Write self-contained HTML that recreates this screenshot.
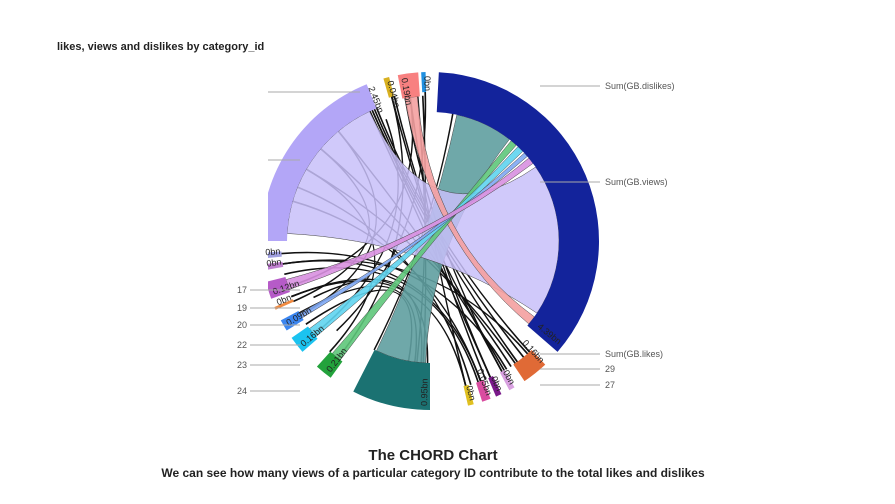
<!DOCTYPE html>
<html><head><meta charset="utf-8"><style>
body{margin:0;background:#fff;font-family:"Liberation Sans",sans-serif;}
#wrap{position:relative;width:895px;height:504px;overflow:hidden;}
.t{position:absolute;font-weight:bold;color:#222;}
</style></head><body>
<div id="wrap">
<div class="t" style="left:57px;top:41px;font-size:11px;">likes, views and dislikes by category_id</div>
<svg id="svg" width="895" height="504" style="position:absolute;left:0;top:0">
<defs><clipPath id="cp"><rect x="268" y="0" width="627" height="504"/></clipPath></defs>
<g id="chords" clip-path="url(#cp)"></g>
<g id="groups" clip-path="url(#cp)"></g>
<g id="labels"></g>
</svg>
<div class="t" style="left:0;width:866px;text-align:center;top:447px;font-size:15px;">The CHORD Chart</div>
<div class="t" style="left:0;width:866px;text-align:center;top:466px;font-size:12px;">We can see how many views of a particular category ID contribute to the total likes and dislikes</div>
</div>
<script>
const cx=430, cy=241, R=169;
const groupNames=["sum","c29","c28","c27","c26","c25","c24","c23","c22","c20","c19","c17","c15","c10","views","c1","c2","c3"];
const groupStart=[3,137,150,155,159,165,180,216,229,238,246,250,260,264,270,344,349,357];
const groupEnd=[131,146,152,157,162,167,207,222,235,242,247,256,262,266,338,346,356,358.5];
const groupThick=[40,20,20,20,20,20,47,20,20,20,20,20,20,20,26,20,24,20];
const groupColor=["#13239b","#e06a36","#d8a0e0","#7a1a8a","#d94ca0","#e0c020","#1b7272","#23a23c","#1bc3f0","#3c86f0","#f08a40","#b65bc8","#c080d0","#a0a0e0","#b3a6f7","#d8b020","#f88080","#2090e0"];
const chSrc=[6,14,16,7,8,9,11];
const chSrcA=[182,273,350,217,230,239,251];
const chSrcB=[206,335,355,221,234,241,255];
const chTgtA=[12,55,126,39,43,47,50];
const chTgtB=[38,124,130,42,46,49,53];
const chColor=["#5f9ea0","#c8bff9","#f4a0a0","#5ec77a","#5fd4f0","#7fa8f4","#d890e0"];
const thinSrc=[138,141,144,151,156,160,161,166,181,184,187,190,207,218,222,231,240,246,252,261,265,345,346,350,352,355,357,358,300,310,320,286,292];
const thinTgt=[338,337,336,336,335,261,257,248,248,244,241,236,10,345,300,340,320,310,352,139,149,158,156,151,166,183,186,226,145,147,150,160,164];
const NS="http://www.w3.org/2000/svg";
function pt(r,a){a=a*Math.PI/180;return [cx+r*Math.sin(a),cy-r*Math.cos(a)];}
function arc(r,a0,a1){const p=pt(r,a1);return `A${r},${r} 0 ${(a1-a0)>180?1:0} 1 ${p[0]},${p[1]}`;}
function groupOf(a){for(let i=0;i<groupStart.length;i++){if(a>=groupStart[i]-1&&a<=groupEnd[i]+1)return i;}return 0;}
function ribbon(r1,a0,a1,r2,b0,b1){
  const p0=pt(r1,a0),q0=pt(r2,b0);
  return `M${p0[0]},${p0[1]}${arc(r1,a0,a1)}Q${cx},${cy} ${q0[0]},${q0[1]}${arc(r2,b0,b1)}Q${cx},${cy} ${p0[0]},${p0[1]}Z`;
}
function ir(i){return R-groupThick[i];}
const gC=document.getElementById('chords'),gG=document.getElementById('groups'),gL=document.getElementById('labels');
for(let i=0;i<thinSrc.length;i++){
  const el=document.createElementNS(NS,'path');
  el.setAttribute('d',ribbon(ir(groupOf(thinSrc[i])),thinSrc[i],thinSrc[i]+0.3,ir(groupOf(thinTgt[i])),thinTgt[i],thinTgt[i]+0.3));
  el.setAttribute('fill','none');el.setAttribute('stroke','#111');el.setAttribute('stroke-width','0.9');
  
  
  gC.appendChild(el);
}
for(let i=0;i<chSrcA.length;i++){
  const el=document.createElementNS(NS,'path');
  el.setAttribute('d',ribbon(ir(chSrc[i]),chSrcA[i],chSrcB[i],ir(0),chTgtA[i],chTgtB[i]));
  el.setAttribute('fill',chColor[i]);el.setAttribute('fill-opacity',i==1?0.85:0.9);
  el.setAttribute('stroke','#444');el.setAttribute('stroke-width','0.5');
  
  
  gC.appendChild(el);
}
for(let i=0;i<groupNames.length;i++){
  const a0=groupStart[i],a1=groupEnd[i],ri=ir(i);
  const p=pt(R,a0),q=pt(ri,a1);
  const d=`M${p[0]},${p[1]}${arc(R,a0,a1)}L${q[0]},${q[1]}A${ri},${ri} 0 ${(a1-a0)>180?1:0} 0 ${pt(ri,a0)[0]},${pt(ri,a0)[1]}Z`;
  const el=document.createElementNS(NS,'path');
  el.setAttribute('d',d);el.setAttribute('fill',groupColor[i]);
  
  
  gG.appendChild(el);
}
const valText=["4.39bn","0.16bn","0bn","0bn","0.05bn","0bn","0.95bn","0.21bn","0.16bn","0.09bn","0bn","0.12bn","0bn","0bn","2.45bn","0.04bn","0.19bn","0bn"];
for(let i=0;i<groupNames.length;i++){
  const a=(i==0)?129:(i==14?338:groupStart[i]+1);
  const p=pt(R-4,a);
  const t=document.createElementNS(NS,'text');
  t.setAttribute('x',p[0]);t.setAttribute('y',p[1]);t.setAttribute('font-size','9');t.setAttribute('fill','#222');
  t.setAttribute('transform',`rotate(${a-90+ (a>180?180:0)} ${p[0]} ${p[1]})`);
  t.setAttribute('text-anchor',a>180?'start':'end');
  t.textContent=valText[i];
  
  
  gL.appendChild(t);
}
const leftLab=["17","19","20","22","23","24"],leftY=[290,308,325,345,365,391];
const rightLab=["Sum(GB.dislikes)","Sum(GB.views)","Sum(GB.likes)","29","27"],rightY=[86,182,354,369,385];
function line(x1,y1,x2,y2){const l=document.createElementNS(NS,'line');l.setAttribute('x1',x1);l.setAttribute('y1',y1);l.setAttribute('x2',x2);l.setAttribute('y2',y2);l.setAttribute('stroke','#aaa');l.setAttribute('stroke-width','1');


gL.appendChild(l);}
function text(x,y,s,anchor){const t=document.createElementNS(NS,'text');t.setAttribute('x',x);t.setAttribute('y',y+3);t.setAttribute('font-size','9');t.setAttribute('fill','#555');t.setAttribute('text-anchor',anchor);t.textContent=s;


gL.appendChild(t);}
for(let i=0;i<leftLab.length;i++){text(247,leftY[i],leftLab[i],'end');line(250,leftY[i],300,leftY[i]);}
for(let i=0;i<rightLab.length;i++){text(605,rightY[i],rightLab[i],'start');line(540,rightY[i],600,rightY[i]);}
line(268,92,360,92);line(268,160,300,160);
</script>
</body></html>
